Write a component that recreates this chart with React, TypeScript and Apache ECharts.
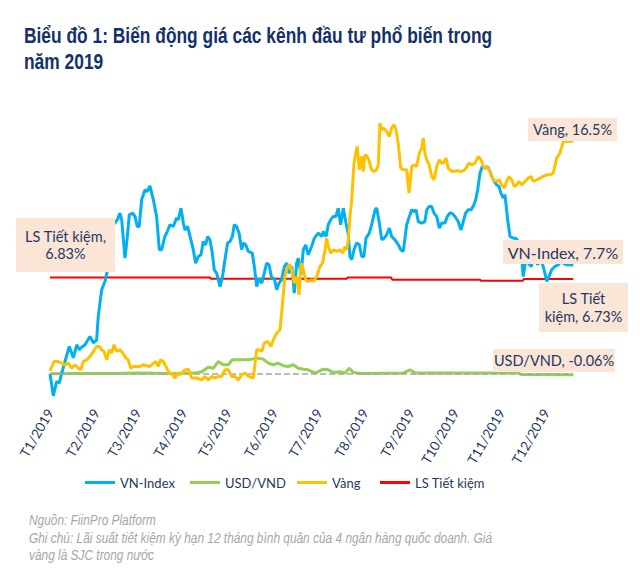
import React, { useEffect, useRef } from "react";
import * as echarts from "echarts";

// ---- data (x = day of year 2019, 0 = 1 Jan; y = % change since start of year) ----
const monthStarts = [0, 31, 59, 90, 120, 151, 181, 212, 243, 273, 304, 334];
const monthLabels = ["T1/2019", "T2/2019", "T3/2019", "T4/2019", "T5/2019", "T6/2019", "T7/2019", "T8/2019", "T9/2019", "T10/2019", "T11/2019", "T12/2019"];
const seriesNames = ["VN-Index", "USD/VND", "Vàng", "LS Tiết kiệm"];

const vnIndex: [number, number][] = [
  [0, 0], [2.2, -1.56], [4.5, -0.55], [6.3, -0.64], [7.9, 0.05], [10.1, 0.87], [13, 1.94], [15.7, 1.13], [18, 2.06], [19.8, 1.7],
  [21.3, 1.89], [23.6, 2.06], [26.9, 2.65], [29.2, 2.2], [31.4, 2.41], [32.5, 4.07], [34.8, 5.96], [37, 6.55], [39.3, 7.6], [40.9, 9.27],
  [42.6, 10.57], [45.3, 10.92], [47.1, 11.4], [48.3, 10.92], [50.5, 8.2], [52.1, 9.74], [53.4, 11.28], [55.7, 11.4], [57.2, 11.16], [58.8, 10.45],
  [60.1, 10.45], [61.7, 12.34], [64, 13.05], [65.5, 12.93], [67.3, 13.33], [69.6, 12.34], [71.8, 11.16], [73.6, 8.8], [75.2, 8.8], [77.4, 9.74],
  [79, 10.09], [80.8, 10.57], [83, 10.45], [85.3, 11.06], [86.4, 10.92], [88.2, 11.75], [89.8, 10.69], [90.9, 10.2], [92.7, 10.45], [94.3, 9.74],
  [96.5, 8.8], [98.1, 7.85], [99.9, 8.32], [101.7, 8.44], [103.2, 9.38], [104.8, 9.15], [106.2, 9.74], [107.7, 9.5], [109.3, 8.56], [110.6, 7.38],
  [112.2, 7.14], [114.5, 6.19], [116, 6.78], [117.8, 8.09], [119.6, 9.27], [121.2, 9.38], [122.8, 9.74], [124.1, 10.57], [125.7, 10.45], [127.3, 9.98],
  [129.1, 8.8], [130.2, 9.27], [131.8, 9.15], [133.5, 8.68], [136.2, 8.56], [137.6, 7.61], [139.2, 6.19], [140.7, 6.78], [142.6, 6.43], [144.3, 7.14],
  [145.9, 7.85], [147.5, 7.73], [149.3, 6.78], [151, 6.78], [152.7, 5.96], [154.2, 6.43], [156, 6.67], [157.8, 7.61], [159.4, 7.85], [160.9, 7.14],
  [162.8, 7.61], [164.5, 5.72], [166.1, 7.85], [167.2, 8.2], [169, 7.02], [170.6, 8.8], [172.2, 9.15], [173.9, 8.44], [176.2, 9.03], [178, 9.62],
  [180.7, 9.98], [183, 9.74], [184.1, 10.09], [185.9, 9.74], [187.4, 10.57], [189, 10.92], [190.8, 11.16], [192.6, 11.16], [194.1, 11.75], [195.7, 10.57],
  [197.5, 11.75], [199.3, 10.69], [200.9, 9.86], [202, 8.32], [203.2, 8.09], [204.7, 8.8], [206.5, 9.27], [208.3, 9.15], [209.9, 8.32], [211.4, 8.32],
  [212.8, 9.62], [215, 9.98], [216.6, 10.57], [218.9, 11.63], [220, 11.75], [221.8, 10.69], [223.4, 9.5], [225, 9.62], [226.7, 9.86], [228.5, 10.33],
  [230.1, 9.74], [232.3, 9.5], [234.6, 9.15], [236.2, 8.8], [237.9, 8.68], [240.2, 10.57], [242, 11.16], [243.6, 11.63], [245.1, 11.51], [246.5, 11.63],
  [248, 10.8], [250.3, 10.69], [252.5, 10.8], [253.7, 11.63], [255.4, 11.87], [257, 11.87], [258.6, 11.4], [260.4, 11.16], [262.2, 10.33], [263.8, 10.69],
  [266, 10.69], [267.5, 11.16], [269.4, 11.4], [270.5, 11.4], [272.7, 11.16], [274.9, 10.8], [276.8, 10.2], [278.3, 10.8], [279.9, 11.4], [281.7, 11.63],
  [283.5, 11.63], [285, 11.87], [286.7, 12.34], [288, 13.05], [289.6, 14.23], [291.1, 14.7], [292.9, 14.59], [294.7, 14.7], [296.3, 14.35], [297.4, 14.0],
  [299.2, 13.64], [300.8, 13.4], [302.4, 13.28], [303.7, 12.8], [305.3, 12.46], [306.4, 12.7], [308.2, 10.92], [309.8, 9.74], [312, 9.62], [313.6, 9.62],
  [315.4, 9.38], [317.2, 8.8], [318.7, 6.9], [320.4, 8.09], [322.1, 7.85], [324, 7.61], [326.2, 8.32], [328.4, 7.73], [330, 8.09], [331.5, 7.85],
  [333.3, 7.14], [334.5, 6.55], [336, 6.9], [337.8, 7.38], [340, 7.61], [342.3, 7.73], [344.1, 7.96], [345.7, 7.85], [347.9, 7.73], [350.2, 7.73],
  [352.4, 7.7],
];

const gold: [number, number][] = [
  [0, 0.2], [2.7, 0.87], [5.6, 0.87], [7.9, 0.75], [10.1, 0.64], [12.3, 0.75], [14.6, 0.4], [16.8, 0.64], [19.1, 0.4], [20.7, 0.28],
  [22.4, 0.87], [24.7, 0.99], [26.9, 1.23], [29.2, 1.58], [31.4, 1.94], [33.2, 1.94], [34.8, 1.7], [36.4, 1.58], [38.2, 0.99], [39.9, 1.7],
  [41.5, 1.47], [43.1, 2.06], [44.9, 1.58], [47.1, 1.7], [49, 1.47], [51.2, 1.11], [52.7, 0.99], [54.3, 0.4], [56.1, 0.52], [58.4, 0.52],
  [60.6, 0.52], [62.8, 0.64], [65.1, 0.57], [67.3, 0.52], [69.6, 0.75], [71.4, 0.87], [72.9, 0.52], [74.5, 0.99], [76.3, 0.87], [78.6, 0.4],
  [80.3, 0.05], [81.9, 0.05], [84.2, -0.3], [85.7, 0.05], [87.5, -0.07], [90.9, 0.28], [93.1, 0.33], [95.4, -0.3], [98.8, -0.3], [102.2, -0.43],
  [104.4, -0.19], [106.6, -0.43], [108.9, -0.19], [111.1, -0.3], [113.3, -0.19], [115.6, -0.19], [117.8, 0.28], [120.1, 0.28], [122.4, -0.19], [124.6, -0.19],
  [126.8, -0.43], [129.1, -0.07], [131.3, 0.05], [134, -0.19], [136.9, -0.3], [139.2, 1.7], [140.7, 1.7], [142.6, 1.58], [144.3, 2.18], [146.6, 2.29],
  [148.8, 1.94], [150.4, 2.41], [152.7, 2.89], [154.9, 3.12], [156.4, 4.78], [158.2, 6.9], [160.1, 7.61], [161.6, 7.73], [163.2, 7.14], [164.5, 6.43],
  [166.1, 6.9], [167.7, 5.6], [169, 7.85], [170.6, 7.38], [172.2, 6.67], [173.9, 6.55], [176.2, 6.67], [177.3, 6.55], [179.6, 6.9], [181.8, 7.61],
  [183.6, 7.85], [185.2, 8.8], [186.3, 9.62], [187.4, 9.03], [189, 8.56], [190.8, 8.8], [193.1, 8.68], [195.3, 8.8], [197.1, 8.56], [198.7, 9.03],
  [199.8, 8.8], [200.9, 9.5], [202, 11.16], [203.2, 12.34], [204.7, 14.94], [206.1, 15.77], [206.9, 16.12], [208.3, 14.47], [209.9, 15.41], [211, 14.35],
  [212.1, 15.53], [213.7, 15.41], [215, 15.06], [216.6, 14.47], [218.2, 14.35], [220, 14.47], [221.1, 14.82], [222.2, 17.78], [223.4, 17.3], [224.9, 17.42],
  [226.7, 17.18], [228.5, 16.83], [230.1, 17.42], [231.6, 17.66], [233, 17.3], [234.5, 16.36], [236.2, 14.59], [237.9, 14.47], [240.2, 14.47], [241.8, 12.82],
  [243.6, 14.7], [245.1, 14.82], [246.9, 14.7], [248.7, 15.65], [250.3, 16.0], [251.4, 16.72], [252.5, 15.65], [253.7, 15.18], [255.4, 14.82], [257, 14.0],
  [258.6, 13.76], [260.4, 14.7], [262.2, 15.18], [263.8, 14.94], [264.9, 14.94], [266.7, 15.3], [268.2, 14.59], [270.5, 14.35], [273.9, 14.4], [277.2, 14.35],
  [279.5, 14.47], [282.2, 14.94], [284, 14.82], [286.2, 14.94], [288.4, 15.41], [290.2, 15.18], [292.5, 14.59], [294.1, 14.7], [296.3, 14.35], [298.5, 13.76],
  [300.8, 13.64], [302.4, 13.76], [304.2, 13.4], [305.9, 13.17], [307.5, 13.64], [309.1, 14.0], [310.9, 13.76], [312.7, 13.28], [314.3, 13.4], [315.8, 13.64],
  [317.6, 13.4], [319.9, 13.64], [322.1, 13.88], [323.9, 14.0], [325.5, 13.64], [327.7, 13.76], [330, 13.88], [332.2, 14.0], [334.5, 14.11], [336.7, 14.11],
  [338.9, 14.23], [341.2, 15.3], [343.4, 15.65], [345.7, 16.48], [352.4, 16.5],
];

const usdVnd: [number, number][] = [
  [0, 0], [20, 0.02], [40, 0.03], [60, 0.05], [80, 0.03], [97.6, 0.05], [102.2, 0.15], [106.6, 0.47], [110, 0.4], [113.3, 0.87],
  [116.7, 0.64], [120.1, 0.64], [122.8, 1.0], [126.8, 1.0], [131.3, 1.0], [135.8, 1.04], [140.3, 1.11], [143.6, 1.04], [147, 0.76], [150.4, 0.64],
  [153.7, 0.76], [157.1, 0.57], [160.5, 0.52], [163.8, 0.64], [167.2, 0.4], [170.6, 0.33], [173.9, 0.28], [178.5, 0.05], [179.6, 0.1], [184.1, 0.33],
  [187.4, 0.28], [190.8, 0.1], [195.3, 0.15], [198.7, 0.05], [201.5, 0.4], [204.2, 0.1], [208.8, 0.03], [237.9, 0.05], [242.4, 0.28], [245.8, 0.05],
  [280, 0.05], [315.4, 0.05], [317.6, -0.05], [352.4, -0.06],
];

const savingsRate: [number, number][] = [
  [0, 6.83], [107.7, 6.83], [108.2, 6.74], [199.8, 6.74], [200.4, 6.83], [229.8, 6.83], [230.4, 6.67], [289.6, 6.67], [290.2, 6.6], [318.5, 6.6],
  [319.1, 6.73], [352.4, 6.73],
];

const endLabels = {
  savingsStart: "LS Tiết kiệm,\n6.83%",
  gold: "Vàng, 16.5%",
  vn: "VN-Index, 7.7%",
  savingsEnd: "LS Tiết\nkiệm, 6.73%",
  usd: "USD/VND, -0.06%",
};

const titleLines = ["Biểu đồ 1: Biến động giá các kênh đầu tư phổ biến trong", "năm 2019"];
const noteLines = [
  "Nguồn: FiinPro Platform",
  "Ghi chú: Lãi suất tiết kiệm kỳ hạn 12 tháng bình quân của 4 ngân hàng quốc doanh. Giá",
  "vàng là SJC trong nước",
];

const NAVY = "#1F3864";
const TITLE_NAVY = "#14306A";
const LABEL_FONT = "Lato, 'Open Sans', sans-serif";
const ARIAL = "'Liberation Sans', Arial, sans-serif";
const NARROW = 0.82; // Arial Narrow ≈ Arial compressed horizontally
const BOX_FILL = "#FBE5D6";
const legendLefts = [80, 185, 292, 375];

function box(x: number, y: number, w: number, h: number, text: string, fontSize: number, lineHeight: number) {
  return {
    type: "group",
    z: 100,
    children: [
      { type: "rect", shape: { x, y, width: w, height: h }, style: { fill: BOX_FILL }, z: 100 },
      {
        type: "text",
        x: x + w / 2,
        y: y + h / 2,
        z: 101,
        style: {
          text,
          fill: NAVY,
          fontSize,
          fontFamily: LABEL_FONT,
          align: "center",
          verticalAlign: "middle",
          lineHeight,
        },
      },
    ],
  };
}

export default function App() {
  const ref = useRef<HTMLDivElement>(null);

  useEffect(() => {
    if (!ref.current) return;
    const chart = echarts.init(ref.current, null, { renderer: "svg" });
    const option = {
      animation: false,
      backgroundColor: "#ffffff",
      grid: { left: 50, right: 48, top: 120, bottom: 171, containLabel: false },
      xAxis: {
        type: "value",
        min: 0,
        max: 365,
        axisLine: { show: false },
        axisTick: { show: false },
        splitLine: { show: false },
        axisLabel: {
          customValues: monthStarts,
          rotate: 60,
          margin: 8,
          color: NAVY,
          fontSize: 13.5,
          fontFamily: LABEL_FONT,
          formatter: (v: number) => {
            const i = monthStarts.indexOf(Math.round(v));
            return i >= 0 ? monthLabels[i] : "";
          },
        },
      },
      yAxis: {
        type: "value",
        min: -2,
        max: 18,
        show: false,
        splitLine: { show: false },
      },
      legend: seriesNames.map((name, i) => ({
        left: legendLefts[i],
        top: 471,
        icon: "rect",
        itemWidth: 30,
        itemHeight: 3,
        data: [name],
        selectedMode: false,
        textStyle: { color: NAVY, fontSize: 13, fontFamily: LABEL_FONT },
      })),
      series: [
        {
          name: seriesNames[3],
          type: "line",
          data: savingsRate,
          symbol: "none",
          color: "#FF0000",
          lineStyle: { width: 2, color: "#FF0000" },
          z: 2,
        },
        {
          name: seriesNames[1],
          type: "line",
          data: usdVnd,
          symbol: "none",
          color: "#92D050",
          lineStyle: { width: 3, color: "#92D050" },
          z: 3,
          markLine: {
            silent: true,
            symbol: "none",
            label: { show: false },
            lineStyle: { color: "#A6A6A6", type: "dashed", width: 1.5 },
            data: [[{ coord: [0, 0] }, { coord: [352.4, 0] }]],
          },
        },
        {
          name: seriesNames[0],
          type: "line",
          data: vnIndex,
          symbol: "none",
          color: "#00B0F0",
          lineStyle: { width: 3, color: "#00B0F0" },
          z: 4,
        },
        {
          name: seriesNames[2],
          type: "line",
          data: gold,
          symbol: "none",
          color: "#FFC000",
          lineStyle: { width: 3, color: "#FFC000" },
          z: 5,
        },
      ],
      graphic: [
        ...titleLines.map((t, i) => ({
          type: "text",
          x: 24,
          y: 35.5 + i * 26.2,
          scaleX: NARROW,
          style: { text: t, fill: TITLE_NAVY, fontSize: 21.2, fontWeight: "bold", fontFamily: ARIAL, verticalAlign: "middle" },
        })),
        ...noteLines.map((t, i) => ({
          type: "text",
          x: 29,
          y: 520.5 + i * 17.3,
          scaleX: NARROW,
          style: { text: t, fill: "#A6A6A6", fontSize: 14.5, fontStyle: "italic", fontFamily: ARIAL, verticalAlign: "middle" },
        })),
        box(16, 218, 99, 54, endLabels.savingsStart, 14.5, 17),
        box(528, 118, 89, 23, endLabels.gold, 14.5, 17),
        box(503, 240, 120, 24, endLabels.vn, 16, 18),
        box(539, 283, 89, 49, endLabels.savingsEnd, 14.5, 18),
        box(493, 349, 122, 23, endLabels.usd, 14.5, 17),
      ],
    };
    chart.setOption(option as any);
    return () => chart.dispose();
  }, []);

  return <div ref={ref} style={{ position: "fixed", left: 0, top: 0, width: 640, height: 573 }} />;
}
